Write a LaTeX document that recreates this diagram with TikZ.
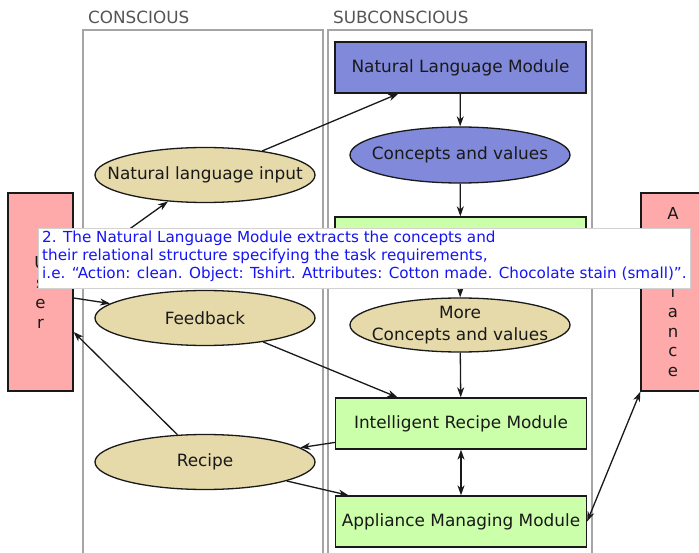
\documentclass[tikz,border=0pt]{standalone}
\usepackage{fontspec}
\setmainfont{DejaVu Sans}
\usetikzlibrary{shapes.geometric,arrows.meta,calc}
\definecolor{modblue}{RGB}{128,137,218}
\definecolor{modgreen}{RGB}{204,255,170}
\definecolor{tanfill}{RGB}{230,218,170}
\definecolor{actorpink}{RGB}{255,170,170}
\definecolor{framegray}{RGB}{165,165,165}
\definecolor{headgray}{RGB}{85,85,85}
\definecolor{noteblue}{RGB}{20,20,245}
\definecolor{edgeblack}{RGB}{25,25,25}
% zero-width centred line, so the ellipse keeps its set size
\newcommand{\ctrline}[1]{\makebox[0pt][c]{#1}}
\begin{document}
\begin{tikzpicture}[x=1pt,y=-1pt,
  labelfont/.style={font=\fontsize{16.9}{22}\selectfont, text=edgeblack},
  module/.style={rectangle, draw=edgeblack, line width=1.3pt, minimum width=251pt,
    minimum height=51pt, inner sep=0pt, labelfont},
  concept/.style={ellipse, draw=edgeblack, line width=1.3pt, minimum width=220pt,
    minimum height=55pt, inner sep=0pt, labelfont, align=center},
  actor/.style={rectangle, draw=edgeblack, line width=1.3pt, fill=actorpink,
    minimum height=198pt, inner sep=0pt, align=center,
    font=\fontsize{16.5}{20}\selectfont, text=edgeblack},
  frame/.style={draw=framegray, line width=1.3pt},
  header/.style={text=headgray, font=\fontsize{16.8}{18}\selectfont, anchor=base west, inner sep=0pt},
  arr/.style={draw=edgeblack, line width=1.3pt, -{Stealth[length=10pt,width=7pt,inset=3pt]}},
  biarr/.style={draw=edgeblack, line width=1.3pt, {Stealth[length=10pt,width=7pt,inset=3pt]}-{Stealth[length=10pt,width=7pt,inset=3pt]}}
]
\useasboundingbox (0,0) rectangle (699,553);
\fill[white] (0,0) rectangle (699,553);

% column frames
\draw[frame] (83,560) -- (83,30) -- (323,30) -- (323,560);
\draw[frame] (328,560) -- (328,30) -- (592,30) -- (592,560);
\node[header] (hcon) at (88,23.3) {CONSCIOUS};
\node[header] (hsub) at (333,23.3) {SUBCONSCIOUS};

% actors
\node[actor, minimum width=65pt] (user) at (40.5,292) {U\\s\\e\\r};
\node[actor, minimum width=64pt, font=\fontsize{16.5}{19.6}\selectfont] (appl) at (673,292) {A\\p\\p\\l\\i\\a\\n\\c\\e};

% subconscious modules
\node[module, fill=modblue] (nlm) at (460.5,67.5) {Natural Language Module};
\node[concept, fill=modblue, minimum height=56pt] (cv) at (460,155) {\ctrline{Concepts and values}};
\node[module, fill=modgreen] (mid) at (460.5,242.5) {};
\node[concept, fill=tanfill, minimum height=54pt] (mcv) at (460,325) {\ctrline{More}\\\ctrline{Concepts and values}};
\node[module, fill=modgreen] (irm) at (461,423.5) {Intelligent Recipe Module};
\node[module, fill=modgreen] (amm) at (461,521.5) {Appliance Managing Module};

% conscious items
\node[concept, fill=tanfill] (nli) at (205,175) {\ctrline{Natural language input}};
\node[concept, fill=tanfill] (fb) at (205,318) {\ctrline{Feedback}};
\node[concept, fill=tanfill] (rec) at (205,462) {\ctrline{Recipe}};

% connectors
\draw[arr] ([yshift=23pt]user.east) -- (nli);
\draw[arr] (nli) -- (nlm);
\draw[arr] (nlm) -- (cv);
\draw[arr] (cv) -- (mid);
\draw[arr] (mid) -- (mcv);
\draw[arr] (mcv) -- (irm);
\draw[arr] ([yshift=-6pt]user.east) -- (fb);
\draw[arr] (fb) -- (irm);
\draw[arr] (irm) -- (rec);
\draw[arr] (rec) -- ([yshift=-40pt]user.east);
\draw[arr] (rec) -- (amm);
\draw[biarr] (irm) -- (amm);
\draw[biarr] (appl.south west) -- (amm.east);

% annotation
\node[rectangle, fill=white, draw=gray!35, line width=0.5pt, minimum width=652pt,
  minimum height=60pt, anchor=north west, inner sep=0pt] (notebox) at (38,228) {};
\node[anchor=north west, inner sep=0pt, align=left, text=noteblue,
  font=\fontsize{15.2}{18}\selectfont] (note) at (42,231)
  {2. The Natural Language Module extracts the concepts and\\
   their relational structure specifying the task requirements,\\
   i.e. “Action: clean. Object: Tshirt. Attributes: Cotton made. Chocolate stain (small)”.};
\end{tikzpicture}
\end{document}
